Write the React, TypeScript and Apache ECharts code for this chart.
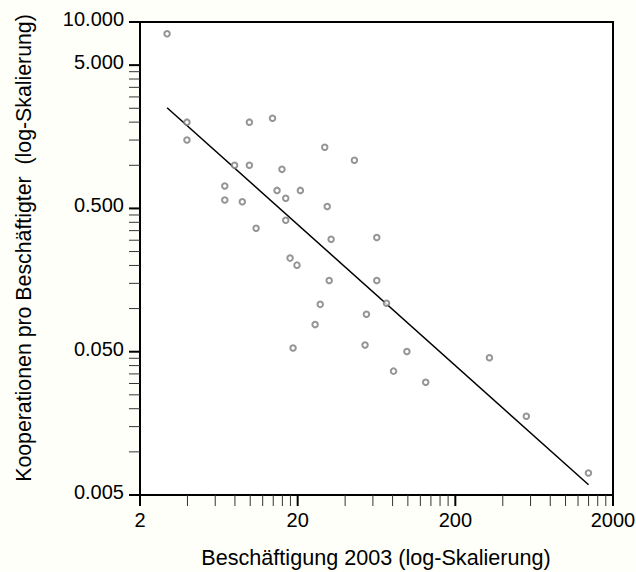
import React, { useEffect, useRef } from "react";
import * as echarts from "echarts";

// Beschäftigung 2003 (x) and Kooperationen pro Beschäftigter (y)
const employees = [
  2.97, 3.97, 3.97, 9.88, 13.85, 7.96, 9.88, 15.9, 29.7, 45.8,
  6.9, 6.9, 8.91, 14.8, 16.8, 20.8, 30.8, 10.9, 16.8, 32.6,
  63.5, 17.9, 19.8, 31.7, 63.5, 27.8, 73.2, 54.6, 25.8, 18.7,
  53.5, 98.6, 81.1, 129.8, 329, 564, 1397,
];
const coopPerEmployee = [
  8.27, 2.0, 1.5, 2.0, 2.13, 1.0, 1.0, 0.937, 1.336, 1.083,
  0.717, 0.572, 0.556, 0.668, 0.589, 0.668, 0.515, 0.364, 0.413, 0.305,
  0.313, 0.225, 0.201, 0.157, 0.157, 0.107, 0.109, 0.0913, 0.0773, 0.053,
  0.0556, 0.0502, 0.0366, 0.0306, 0.0454, 0.0177, 0.00713,
];

// regression line end points
const fitX = [2.97, 1400];
const fitY = [2.52, 0.0059];

// axis ticks
const xMajor = [2, 20, 200, 2000];
const xMajorLabels = ["2", "20", "200", "2000"];
const xMinor = [
  4, 6, 8, 10, 12, 14, 16, 18,
  40, 60, 80, 100, 120, 140, 160, 180,
  400, 600, 800, 1000, 1200, 1400, 1600, 1800,
];
const yMajor = [0.005, 0.05, 0.5, 5, 10];
const yMajorLabels = ["0.005", "0.050", "0.500", "5.000", "10.000"];
const yMinor = [
  0.01, 0.015, 0.02, 0.025, 0.03, 0.035, 0.04, 0.045,
  0.1, 0.15, 0.2, 0.25, 0.3, 0.35, 0.4, 0.45,
  1, 1.5, 2, 2.5, 3, 3.5, 4, 4.5,
];

const xTitle = "Beschäftigung 2003 (log-Skalierung)";
const yTitle = "Kooperationen pro Beschäftigter  (log-Skalierung)";

const X_MIN = 2;
const X_MAX = 2000;
const Y_MIN = 0.005;
const Y_MAX = 10;

const FONT = "'Liberation Sans', Arial, Helvetica, sans-serif";
const TICK_LEN = 11;

export default function App() {
  const ref = useRef<HTMLDivElement>(null);

  useEffect(() => {
    if (!ref.current) return;
    const chart = echarts.init(ref.current, undefined, { renderer: "svg" });

    const xTickData = [
      ...xMajor.map((v, i) => ({ value: [v, Y_MIN], major: true, label: xMajorLabels[i] })),
      ...xMinor.map((v) => ({ value: [v, Y_MIN], major: false, label: "" })),
    ];
    const yTickData = [
      ...yMajor.map((v, i) => ({ value: [X_MIN, v], major: true, label: yMajorLabels[i] })),
      ...yMinor.map((v) => ({ value: [X_MIN, v], major: false, label: "" })),
    ];

    const option: any = {
      animation: false,
      backgroundColor: "transparent",
      grid: {
        left: 140,
        top: 22,
        right: 23,
        bottom: 77,
        show: true,
        backgroundColor: "#ffffff",
        borderColor: "#000000",
        borderWidth: 2,
      },
      xAxis: {
        type: "log",
        logBase: 10,
        min: X_MIN,
        max: X_MAX,
        axisLine: { show: false },
        axisTick: { show: false },
        axisLabel: { show: false },
        splitLine: { show: false },
        minorTick: { show: false },
      },
      yAxis: {
        type: "log",
        logBase: 10,
        min: Y_MIN,
        max: Y_MAX,
        axisLine: { show: false },
        axisTick: { show: false },
        axisLabel: { show: false },
        splitLine: { show: false },
        minorTick: { show: false },
      },
      series: [
        {
          type: "line",
          data: fitX.map((x, i) => [x, fitY[i]]),
          symbol: "none",
          lineStyle: { color: "#000000", width: 1.5 },
          z: 3,
        },
        {
          type: "scatter",
          data: employees.map((x, i) => [x, coopPerEmployee[i]]),
          symbol: "emptyCircle",
          symbolSize: 5.5,
          itemStyle: { color: "#7a7a7a", borderWidth: 1.2 },
          z: 4,
        },
        {
          type: "custom",
          clip: false,
          silent: true,
          z: 5,
          data: xTickData,
          renderItem: (params: any, api: any) => {
            const item = xTickData[params.dataIndex];
            const p = api.coord([api.value(0), api.value(1)]);
            const children: any[] = [
              {
                type: "line",
                shape: { x1: p[0], y1: p[1], x2: p[0], y2: p[1] + TICK_LEN },
                style: { stroke: item.major ? "#000" : "#333", lineWidth: item.major ? 2 : 1 },
              },
            ];
            if (item.major) {
              children.push({
                type: "text",
                style: {
                  text: item.label,
                  x: p[0],
                  y: p[1] + 25,
                  align: "center",
                  textAlign: "center",
                  verticalAlign: "middle",
                  textVerticalAlign: "middle",
                  fontSize: 20,
                  fontFamily: FONT,
                  fill: "#000",
                },
              });
            }
            return { type: "group", children };
          },
        },
        {
          type: "custom",
          clip: false,
          silent: true,
          z: 5,
          data: yTickData,
          renderItem: (params: any, api: any) => {
            const item = yTickData[params.dataIndex];
            const p = api.coord([api.value(0), api.value(1)]);
            const children: any[] = [
              {
                type: "line",
                shape: { x1: p[0] - TICK_LEN, y1: p[1], x2: p[0], y2: p[1] },
                style: { stroke: item.major ? "#000" : "#333", lineWidth: item.major ? 2 : 1 },
              },
            ];
            if (item.major) {
              children.push({
                type: "text",
                style: {
                  text: item.label,
                  x: p[0] - 16,
                  y: p[1] - 3,
                  align: "right",
                  textAlign: "right",
                  verticalAlign: "middle",
                  textVerticalAlign: "middle",
                  fontSize: 20,
                  fontFamily: FONT,
                  fill: "#000",
                },
              });
            }
            return { type: "group", children };
          },
        },
      ],
      graphic: [
        {
          type: "text",
          x: 376,
          y: 557,
          style: {
            text: xTitle,
            align: "center",
            textAlign: "center",
            verticalAlign: "middle",
            textVerticalAlign: "middle",
            fontSize: 21.6,
            fontFamily: FONT,
            fill: "#000",
          },
        },
        {
          type: "text",
          x: 24,
          y: 248,
          rotation: Math.PI / 2,
          style: {
            text: yTitle,
            align: "center",
            textAlign: "center",
            verticalAlign: "middle",
            textVerticalAlign: "middle",
            fontSize: 21.3,
            fontFamily: FONT,
            fill: "#000",
          },
        },
      ],
    };

    chart.setOption(option);
    return () => {
      chart.dispose();
    };
  }, []);

  return (
    <div
      ref={ref}
      style={{
        position: "absolute",
        left: 0,
        top: 0,
        width: 636,
        height: 572,
        background: "#fffffa",
      }}
    />
  );
}
